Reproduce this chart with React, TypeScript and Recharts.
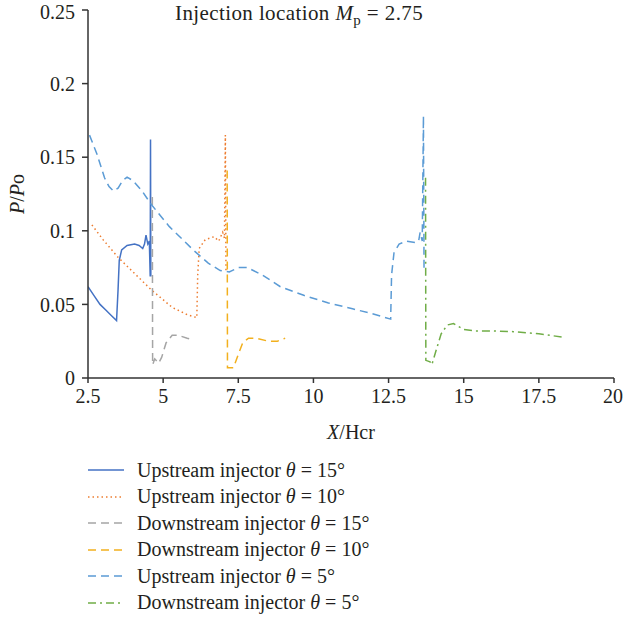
import React from "react";
import { LineChart, Line, XAxis, YAxis, Legend } from "recharts";

const xTicks = [2.5, 5, 7.5, 10, 12.5, 15, 17.5, 20];
const yTicks = [0, 0.05, 0.1, 0.15, 0.2, 0.25];

const upstream15 = [
  { x: 2.5, y: 0.062 }, { x: 2.7, y: 0.056 }, { x: 2.9, y: 0.05 }, { x: 3.1, y: 0.046 },
  { x: 3.3, y: 0.042 }, { x: 3.45, y: 0.039 }, { x: 3.5, y: 0.06 }, { x: 3.54, y: 0.08 },
  { x: 3.62, y: 0.087 }, { x: 3.8, y: 0.09 }, { x: 4.05, y: 0.091 }, { x: 4.2, y: 0.09 },
  { x: 4.32, y: 0.088 }, { x: 4.38, y: 0.091 }, { x: 4.43, y: 0.097 }, { x: 4.49, y: 0.091 },
  { x: 4.54, y: 0.093 }, { x: 4.57, y: 0.069 }, { x: 4.58, y: 0.162 }, { x: 4.59, y: 0.069 },
];

const upstream10 = [
  { x: 2.63, y: 0.104 }, { x: 3.0, y: 0.094 }, { x: 3.5, y: 0.082 }, { x: 4.1, y: 0.07 },
  { x: 4.6, y: 0.06 }, { x: 5.3, y: 0.048 }, { x: 5.8, y: 0.043 }, { x: 6.12, y: 0.041 },
  { x: 6.15, y: 0.07 }, { x: 6.2, y: 0.088 }, { x: 6.4, y: 0.094 }, { x: 6.7, y: 0.096 },
  { x: 6.85, y: 0.093 }, { x: 6.98, y: 0.099 }, { x: 7.04, y: 0.095 }, { x: 7.07, y: 0.165 },
  { x: 7.09, y: 0.073 },
];

const downstream15 = [
  { x: 4.64, y: 0.123 }, { x: 4.65, y: 0.009 }, { x: 4.72, y: 0.013 }, { x: 4.85, y: 0.01 },
  { x: 4.95, y: 0.014 }, { x: 5.1, y: 0.024 }, { x: 5.3, y: 0.029 }, { x: 5.5, y: 0.029 },
  { x: 5.8, y: 0.027 }, { x: 6.0, y: 0.026 },
];

const downstream10 = [
  { x: 7.13, y: 0.141 }, { x: 7.14, y: 0.007 }, { x: 7.34, y: 0.007 }, { x: 7.5, y: 0.016 },
  { x: 7.65, y: 0.024 }, { x: 7.84, y: 0.027 }, { x: 8.1, y: 0.027 }, { x: 8.5, y: 0.025 },
  { x: 8.8, y: 0.025 }, { x: 9.06, y: 0.027 },
];

const upstream5 = [
  { x: 2.55, y: 0.165 }, { x: 2.8, y: 0.152 }, { x: 3.05, y: 0.136 }, { x: 3.2, y: 0.13 },
  { x: 3.35, y: 0.127 }, { x: 3.5, y: 0.129 }, { x: 3.65, y: 0.134 }, { x: 3.8, y: 0.1365 },
  { x: 4.0, y: 0.134 }, { x: 4.3, y: 0.127 }, { x: 4.6, y: 0.118 }, { x: 5.2, y: 0.103 },
  { x: 6.0, y: 0.087 }, { x: 6.5, y: 0.078 }, { x: 6.9, y: 0.073 }, { x: 7.2, y: 0.072 },
  { x: 7.5, y: 0.075 }, { x: 7.8, y: 0.075 }, { x: 8.3, y: 0.07 }, { x: 8.9, y: 0.062 },
  { x: 9.7, y: 0.056 }, { x: 10.5, y: 0.051 }, { x: 11.3, y: 0.047 }, { x: 11.9, y: 0.044 },
  { x: 12.57, y: 0.04 }, { x: 12.6, y: 0.07 }, { x: 12.68, y: 0.085 }, { x: 12.85, y: 0.091 },
  { x: 13.1, y: 0.093 }, { x: 13.4, y: 0.092 }, { x: 13.5, y: 0.093 }, { x: 13.55, y: 0.099 },
  { x: 13.62, y: 0.093 }, { x: 13.66, y: 0.178 }, { x: 13.68, y: 0.072 },
];

const downstream5 = [
  { x: 13.73, y: 0.136 }, { x: 13.74, y: 0.012 }, { x: 13.88, y: 0.011 }, { x: 13.94, y: 0.009 },
  { x: 14.1, y: 0.02 }, { x: 14.25, y: 0.03 }, { x: 14.45, y: 0.036 }, { x: 14.66, y: 0.037 },
  { x: 15.0, y: 0.033 }, { x: 15.4, y: 0.032 }, { x: 16.0, y: 0.032 }, { x: 16.65, y: 0.0315 },
  { x: 17.5, y: 0.03 }, { x: 18.32, y: 0.0277 },
];

const seriesNames = [
  "Upstream injector",
  "Upstream injector",
  "Downstream injector",
  "Downstream injector",
  "Upstream injector",
  "Downstream injector",
];
const seriesAngles = ["15°", "10°", "15°", "10°", "5°", "5°"];

const series = [
  { data: upstream15, color: "#4472C4", dash: undefined as string | undefined },
  { data: upstream10, color: "#ED7D31", dash: "1.5 3" },
  { data: downstream15, color: "#A5A5A5", dash: "8 5" },
  { data: downstream10, color: "#F2B01E", dash: "8 5" },
  { data: upstream5, color: "#5B9BD5", dash: "8 5" },
  { data: downstream5, color: "#70AD47", dash: "8 4 2 4" },
];

const FONT = "'Liberation Serif', 'DejaVu Serif', serif";
const TEXT = "#231F20";
const FS = 20;

const LegendContent = () => (
  <div style={{ fontFamily: FONT, fontSize: FS, color: TEXT }}>
    {series.map((s, i) => (
      <div key={i} style={{ display: "flex", alignItems: "center", height: 26.5, whiteSpace: "nowrap" }}>
        <svg width={36} height={10} style={{ marginRight: 13 }}>
          <line x1={0} y1={5} x2={36} y2={5} stroke={s.color} strokeWidth={1.5} strokeDasharray={s.dash} />
        </svg>
        <span>
          {seriesNames[i]} <i>θ</i> = {seriesAngles[i]}
        </span>
      </div>
    ))}
  </div>
);

const YLabel = () => (
  <text x={24} y={194} transform="rotate(-90 24 194)" textAnchor="middle" fontFamily={FONT} fontSize={FS} fill={TEXT}>
    <tspan fontStyle="italic">P</tspan>
    <tspan>/</tspan>
    <tspan fontStyle="italic">P</tspan>
    <tspan>o</tspan>
  </text>
);

const XLabel = () => (
  <text x={351} y={439} textAnchor="middle" fontFamily={FONT} fontSize={FS} fill={TEXT}>
    <tspan fontStyle="italic">X</tspan>
    <tspan>/Hcr</tspan>
  </text>
);

export default function App() {
  return (
    <div style={{ position: "absolute", left: 0, top: 0, width: 623, height: 618, background: "#fff" }}>
      <div
        style={{
          position: "absolute",
          left: 175,
          top: 0,
          fontFamily: FONT,
          fontSize: 21,
          letterSpacing: 0.4,
          color: TEXT,
          whiteSpace: "nowrap",
          zIndex: 2,
          lineHeight: "26px",
        }}
      >
        Injection location <i>M</i>
        <sub style={{ fontSize: 15, lineHeight: 0 }}>p</sub> = 2.75
      </div>
      <LineChart width={623} height={618} margin={{ top: 10, right: 9, left: 0, bottom: 180 }}>
        <XAxis
          dataKey="x"
          type="number"
          domain={[2.5, 20]}
          ticks={xTicks}
          allowDataOverflow
          height={60}
          tickSize={5}
          tickMargin={6}
          stroke="#333"
          strokeWidth={1.5}
          tick={{ fill: TEXT, fontFamily: FONT, fontSize: FS }}
          label={<XLabel />}
        />
        <YAxis
          type="number"
          domain={[0, 0.25]}
          ticks={yTicks}
          allowDataOverflow
          width={88}
          tickSize={6}
          tickMargin={7}
          stroke="#333"
          strokeWidth={1.5}
          tick={{ fill: TEXT, fontFamily: FONT, fontSize: FS }}
          label={<YLabel />}
        />
        {series.map((s, i) => (
          <Line
            key={i}
            data={s.data}
            dataKey="y"
            type="linear"
            stroke={s.color}
            strokeWidth={1.5}
            strokeDasharray={s.dash}
            dot={false}
            activeDot={false}
            isAnimationActive={false}
            name={`${seriesNames[i]} θ = ${seriesAngles[i]}`}
          />
        ))}
        <Legend
          layout="vertical"
          align="center"
          verticalAlign="middle"
          content={<LegendContent />}
          wrapperStyle={{ top: 457, left: 88, width: 420 }}
        />
      </LineChart>
    </div>
  );
}
